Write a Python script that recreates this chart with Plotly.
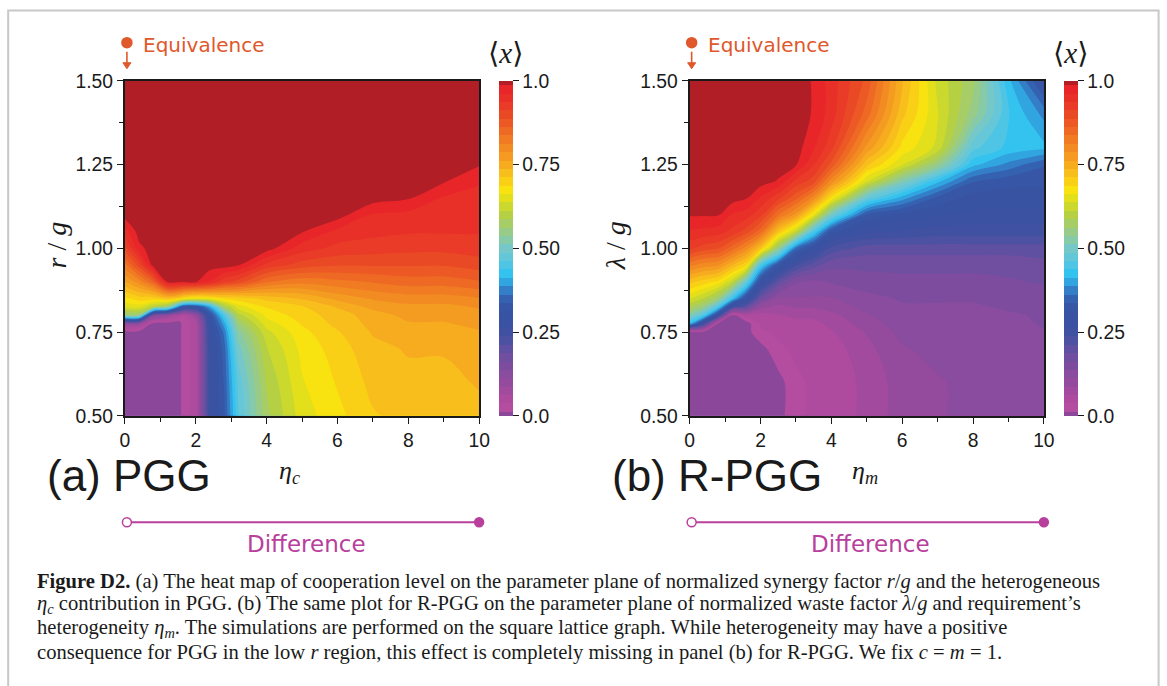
import plotly.graph_objects as go

# page <-> canvas calibration (page has the browser's 8px body margin)
SX, CX = 0.9886, -4.1
SY, CY = 0.967, 2.7
BODY = 8
FW, FH = 1176, 702


def px(x):
    return ((x - CX) / SX - BODY) / FW


def py(y):
    return 1 - ((y - CY) / SY - BODY) / FH


# ---------------- data: panel (a) PGG ----------------
eta_c = [0, 0.4, 0.8, 1.2, 1.55, 1.65, 2.0, 2.4, 2.8, 3.2, 4, 5, 6, 7, 8, 9, 10]
r_over_g = [0.5, 0.6, 0.7, 0.75, 0.775, 0.8, 0.825, 0.85, 0.9, 0.95,
            1.0, 1.05, 1.1, 1.15, 1.2, 1.25, 1.3, 1.4, 1.5]
coop_pgg = [
    [0, 0, 0, 0, 0, 0.035, 0.04, 0.27, 0.33, 0.46, 0.58, 0.65, 0.68, 0.71, 0.72, 0.73, 0.73],
    [0, 0, 0, 0, 0, 0.035, 0.04, 0.27, 0.34, 0.47, 0.59, 0.66, 0.69, 0.72, 0.73, 0.73, 0.74],
    [0, 0, 0, 0, 0, 0.035, 0.04, 0.27, 0.35, 0.50, 0.61, 0.67, 0.70, 0.73, 0.74, 0.74, 0.75],
    [0, 0, 0, 0, 0, 0.035, 0.04, 0.28, 0.37, 0.53, 0.63, 0.68, 0.71, 0.74, 0.75, 0.75, 0.76],
    [0.1, 0.1, 0, 0, 0, 0.035, 0.04, 0.29, 0.40, 0.56, 0.65, 0.69, 0.72, 0.745, 0.76, 0.76, 0.77],
    [0.55, 0.55, 0.15, 0.1, 0.05, 0.035, 0.1, 0.31, 0.45, 0.60, 0.67, 0.70, 0.725, 0.75, 0.77, 0.77, 0.78],
    [0.64, 0.65, 0.60, 0.55, 0.35, 0.30, 0.30, 0.40, 0.58, 0.65, 0.69, 0.71, 0.74, 0.77, 0.78, 0.78, 0.79],
    [0.68, 0.70, 0.70, 0.72, 0.70, 0.68, 0.66, 0.67, 0.69, 0.70, 0.72, 0.74, 0.77, 0.79, 0.80, 0.80, 0.81],
    [0.76, 0.80, 0.86, 0.99, 0.99, 0.99, 0.99, 0.96, 0.92, 0.90, 0.84, 0.82, 0.83, 0.84, 0.85, 0.85, 0.86],
    [0.83, 0.90, 1, 1, 1, 1, 1, 1, 1, 0.99, 0.93, 0.90, 0.89, 0.89, 0.89, 0.89, 0.90],
    [0.90, 0.98, 1, 1, 1, 1, 1, 1, 1, 1, 1, 0.95, 0.93, 0.925, 0.92, 0.92, 0.925],
    [0.95, 1, 1, 1, 1, 1, 1, 1, 1, 1, 1, 0.99, 0.955, 0.945, 0.94, 0.94, 0.94],
    [1, 1, 1, 1, 1, 1, 1, 1, 1, 1, 1, 1, 1, 0.96, 0.955, 0.95, 0.95],
    [1, 1, 1, 1, 1, 1, 1, 1, 1, 1, 1, 1, 1, 1, 0.99, 0.96, 0.955],
    [1, 1, 1, 1, 1, 1, 1, 1, 1, 1, 1, 1, 1, 1, 1, 0.99, 0.965],
    [1, 1, 1, 1, 1, 1, 1, 1, 1, 1, 1, 1, 1, 1, 1, 1, 0.99],
    [1, 1, 1, 1, 1, 1, 1, 1, 1, 1, 1, 1, 1, 1, 1, 1, 1],
    [1, 1, 1, 1, 1, 1, 1, 1, 1, 1, 1, 1, 1, 1, 1, 1, 1],
    [1, 1, 1, 1, 1, 1, 1, 1, 1, 1, 1, 1, 1, 1, 1, 1, 1],
]

# ---------------- data: panel (b) R-PGG ----------------
eta_m = [0, 0.4, 0.8, 1.2, 1.6, 2.0, 2.5, 3, 3.5, 4, 5, 6, 7, 8, 9, 10]
lam_over_g = [0.5, 0.6, 0.7, 0.75, 0.775, 0.8, 0.825, 0.85, 0.9, 0.95,
              1.0, 1.05, 1.1, 1.15, 1.2, 1.25, 1.3, 1.4, 1.5]
coop_rpgg = [
    [0, 0, 0, 0, 0, 0, 0, 0.035, 0.04, 0.045, 0.07, 0.10, 0.11, 0.12, 0.12, 0.12],
    [0, 0, 0, 0, 0, 0, 0, 0.035, 0.04, 0.045, 0.07, 0.10, 0.11, 0.12, 0.12, 0.13],
    [0, 0, 0, 0, 0, 0, 0.035, 0.04, 0.045, 0.05, 0.08, 0.11, 0.12, 0.12, 0.125, 0.13],
    [0, 0, 0, 0, 0, 0.035, 0.04, 0.045, 0.05, 0.06, 0.09, 0.12, 0.125, 0.125, 0.13, 0.135],
    [0.42, 0.25, 0, 0, 0, 0.04, 0.045, 0.05, 0.055, 0.07, 0.10, 0.125, 0.13, 0.13, 0.13, 0.14],
    [0.52, 0.45, 0.28, 0, 0.05, 0.05, 0.06, 0.07, 0.07, 0.08, 0.11, 0.13, 0.13, 0.13, 0.135, 0.14],
    [0.59, 0.55, 0.45, 0.25, 0.20, 0.10, 0.08, 0.09, 0.09, 0.10, 0.12, 0.135, 0.135, 0.135, 0.14, 0.145],
    [0.64, 0.61, 0.56, 0.43, 0.30, 0.18, 0.11, 0.11, 0.11, 0.11, 0.13, 0.14, 0.14, 0.14, 0.145, 0.15],
    [0.72, 0.70, 0.68, 0.62, 0.48, 0.30, 0.20, 0.14, 0.13, 0.14, 0.15, 0.155, 0.155, 0.155, 0.16, 0.165],
    [0.82, 0.80, 0.79, 0.74, 0.69, 0.45, 0.32, 0.24, 0.20, 0.17, 0.17, 0.17, 0.17, 0.17, 0.17, 0.18],
    [0.92, 0.90, 0.89, 0.85, 0.80, 0.72, 0.55, 0.36, 0.29, 0.23, 0.20, 0.20, 0.20, 0.20, 0.20, 0.20],
    [0.96, 0.955, 0.95, 0.93, 0.90, 0.85, 0.72, 0.62, 0.45, 0.32, 0.27, 0.26, 0.25, 0.25, 0.25, 0.25],
    [0.99, 0.99, 0.99, 0.96, 0.95, 0.92, 0.84, 0.78, 0.66, 0.50, 0.33, 0.30, 0.29, 0.28, 0.28, 0.28],
    [1, 1, 1, 1, 0.99, 0.96, 0.92, 0.87, 0.80, 0.68, 0.48, 0.40, 0.33, 0.30, 0.30, 0.30],
    [1, 1, 1, 1, 1, 1, 0.985, 0.93, 0.90, 0.80, 0.64, 0.52, 0.42, 0.34, 0.32, 0.32],
    [1, 1, 1, 1, 1, 1, 1, 0.99, 0.94, 0.88, 0.72, 0.64, 0.55, 0.42, 0.38, 0.34],
    [1, 1, 1, 1, 1, 1, 1, 1, 0.965, 0.92, 0.78, 0.68, 0.63, 0.47, 0.43, 0.42],
    [1, 1, 1, 1, 1, 1, 1, 1, 0.985, 0.95, 0.85, 0.72, 0.64, 0.55, 0.44, 0.38],
    [1, 1, 1, 1, 1, 1, 1, 1, 0.985, 0.95, 0.88, 0.74, 0.63, 0.57, 0.42, 0.30],
]

cbar_ticks = [0, 0.25, 0.5, 0.75, 1.0]
cbar_labels = ["0.0", "0.25", "0.50", "0.75", "1.0"]
x_ticks = [0, 2, 4, 6, 8, 10]
y_ticks = [0.5, 0.75, 1.0, 1.25, 1.5]
y_labels = ["0.50", "0.75", "1.00", "1.25", "1.50"]

# rainbow map: purple -> pink -> blue -> cyan -> green -> yellow -> orange -> red -> dark red
colorscale = [
    [0.0, "#8b4799"], [0.025, "#b44ca0"], [0.05, "#ae4b9f"], [0.075, "#a24b9e"],
    [0.10, "#944b9d"], [0.15, "#7e4c9f"], [0.19, "#6850a2"], [0.22, "#4e51a2"],
    [0.26, "#3c51a2"], [0.32, "#3854a4"], [0.36, "#3466b4"], [0.39, "#3196d8"],
    [0.42, "#2ec2f0"], [0.46, "#5ac6e2"], [0.50, "#76c8c8"], [0.55, "#98cb88"],
    [0.60, "#b6d044"], [0.64, "#d8dc20"], [0.67, "#f8e60e"], [0.70, "#f9d016"],
    [0.73, "#f8ba1d"], [0.77, "#f59e21"], [0.82, "#f07e22"], [0.87, "#ec5c25"],
    [0.92, "#e93d27"], [0.975, "#e8262a"], [1.0, "#b21e26"],
]
LEV0, LEV1, DLEV = 0.0125, 0.9875, 0.025

TICK_FONT = dict(family="Liberation Sans, Arial, sans-serif", size=19.3, color="#1a1a1a")


def contour(x, y, z, cb_left, xaxis, yaxis):
    return go.Contour(
        x=x, y=y, z=z, xaxis=xaxis, yaxis=yaxis,
        colorscale=colorscale,
        contours=dict(start=LEV0, end=LEV1, size=DLEV, coloring="fill", showlines=False),
        line=dict(width=0),
        colorbar=dict(
            x=px(cb_left), xanchor="left", xpad=0,
            y=py(81), yanchor="top", ypad=0,
            len=py(81) - py(415), lenmode="fraction",
            thickness=13.5, thicknessmode="pixels",
            outlinewidth=0,
            tickmode="array", tickvals=cbar_ticks, ticktext=cbar_labels,
            ticks="outside", ticklen=6, tickwidth=1.2, tickcolor="#1a1a1a",
            tickfont=TICK_FONT,
        ),
        hoverinfo="skip",
    )


fig = go.Figure()
fig.add_trace(contour(eta_c, r_over_g, coop_pgg, 499, "x", "y"))
fig.add_trace(contour(eta_m, lam_over_g, coop_rpgg, 1065, "x2", "y2"))

axis_common = dict(
    showline=True, linewidth=2, linecolor="#1a1a1a", mirror=True,
    ticks="outside", ticklen=6, tickwidth=1.2, tickcolor="#1a1a1a",
    tickfont=TICK_FONT, showgrid=False, zeroline=False,
)
xa = dict(axis_common, range=[0, 10], tickmode="array", tickvals=x_ticks,
          minor=dict(dtick=1, ticks="outside", ticklen=4, tickcolor="#1a1a1a", showgrid=False))
ya = dict(axis_common, range=[0.5, 1.5], tickmode="array", tickvals=y_ticks, ticktext=y_labels,
          minor=dict(dtick=0.125, tick0=0.5, ticks="outside", ticklen=4, tickcolor="#1a1a1a", showgrid=False))

fig.update_layout(
    width=FW, height=FH,
    margin=dict(l=0, r=0, t=0, b=0),
    paper_bgcolor="white", plot_bgcolor=colorscale[0][1],
    showlegend=False,
    xaxis=dict(xa, domain=[px(124), px(479)], anchor="y"),
    yaxis=dict(ya, domain=[py(415), py(81)], anchor="x"),
    xaxis2=dict(xa, domain=[px(690), px(1045)], anchor="y2"),
    yaxis2=dict(ya, domain=[py(415), py(81)], anchor="x2"),
)

ORANGE = "#e0582b"
MAGENTA = "#b8409c"
HAND = "DejaVu Sans, Noto Sans, sans-serif"
SERIF = "Liberation Serif, DejaVu Serif, serif"

ann = []
shapes = []


def text(x, y, s, size, color="#1a1a1a", family=SERIF, xanchor="center", angle=0):
    ann.append(dict(x=px(x), y=py(y), xref="paper", yref="paper", text=s, showarrow=False,
                    xanchor=xanchor, yanchor="middle", textangle=angle,
                    font=dict(family=family, size=size, color=color)))


def dot(x, y, r, color, filled=True):
    shapes.append(dict(type="circle", xref="paper", yref="paper",
                       x0=px(x - r), x1=px(x + r), y0=py(y + r), y1=py(y - r),
                       line=dict(color=color, width=1.5),
                       fillcolor=color if filled else "white"))


def down_arrow(x, y0, y1, color):
    shapes.append(dict(type="line", xref="paper", yref="paper",
                       x0=px(x), x1=px(x), y0=py(y0), y1=py(y1 - 3),
                       line=dict(color=color, width=1.6)))
    path = (f"M {px(x - 4)} {py(y1 - 6)} L {px(x + 4)} {py(y1 - 6)} "
            f"L {px(x)} {py(y1)} Z")
    shapes.append(dict(type="path", xref="paper", yref="paper", path=path,
                       line=dict(color=color, width=1), fillcolor=color))


for left, right, label, label_x, xlab, xlab_x, ylab, ylab_x in [
    (124, 479, "(a) PGG", 44, "<i>η</i><sub><i>c</i></sub>", 289, "<i>r</i> / <i>g</i>", 55),
    (690, 1045, "(b) R-PGG", 610, "<i>η</i><sub><i>m</i></sub>", 866, "<i>λ</i> / <i>g</i>", 615),
]:
    # equivalence marker
    dot(left + 2, 43, 5, ORANGE)
    down_arrow(left + 2, 52, 69, ORANGE)
    text(left + 16, 45, "Equivalence", 20, ORANGE, HAND, xanchor="left")
    # colour bar title
    text(right + 27, 53, "⟨<i>x</i>⟩", 29, family=SERIF)
    # axis titles
    text(xlab_x, 471, xlab, 26)
    text(ylab_x, 245, ylab, 28, angle=-90)
    text(label_x, 474, label, 44, family="Liberation Sans, Arial, sans-serif", xanchor="left")
    # difference bar
    shapes.append(dict(type="line", xref="paper", yref="paper",
                       x0=px(left + 2), x1=px(right), y0=py(521), y1=py(521),
                       line=dict(color=MAGENTA, width=2)))
    dot(left + 2, 521, 4.5, MAGENTA, filled=False)
    dot(right, 521, 4.5, MAGENTA, filled=True)
    text((left + right) / 2 + 4, 543, "Difference", 23, MAGENTA, HAND)

caption = [
    "<b>Figure D2.</b> (a) The heat map of cooperation level on the parameter plane of normalized synergy factor <i>r</i>/<i>g</i> and the heterogeneous",
    "<i>η<sub>c</sub></i> contribution in PGG. (b) The same plot for R-PGG on the parameter plane of normalized waste factor <i>λ</i>/<i>g</i> and requirement’s",
    "heterogeneity <i>η<sub>m</sub></i>. The simulations are performed on the square lattice graph. While heterogeneity may have a positive",
    "consequence for PGG in the low <i>r</i> region, this effect is completely missing in panel (b) for R-PGG. We fix <i>c</i> = <i>m</i> = 1.",
]
for i, line in enumerate(caption):
    text(34, 580 + 23.5 * i, line, 20.6, "#1a1a1a", SERIF, xanchor="left")

# outer frame
shapes.append(dict(type="rect", xref="paper", yref="paper",
                   x0=px(7), x1=px(1160), y0=py(720), y1=py(11),
                   line=dict(color="#c8c8c8", width=2), fillcolor="rgba(0,0,0,0)", layer="below"))

fig.update_layout(annotations=ann, shapes=shapes)
fig.write_html("out.html")
